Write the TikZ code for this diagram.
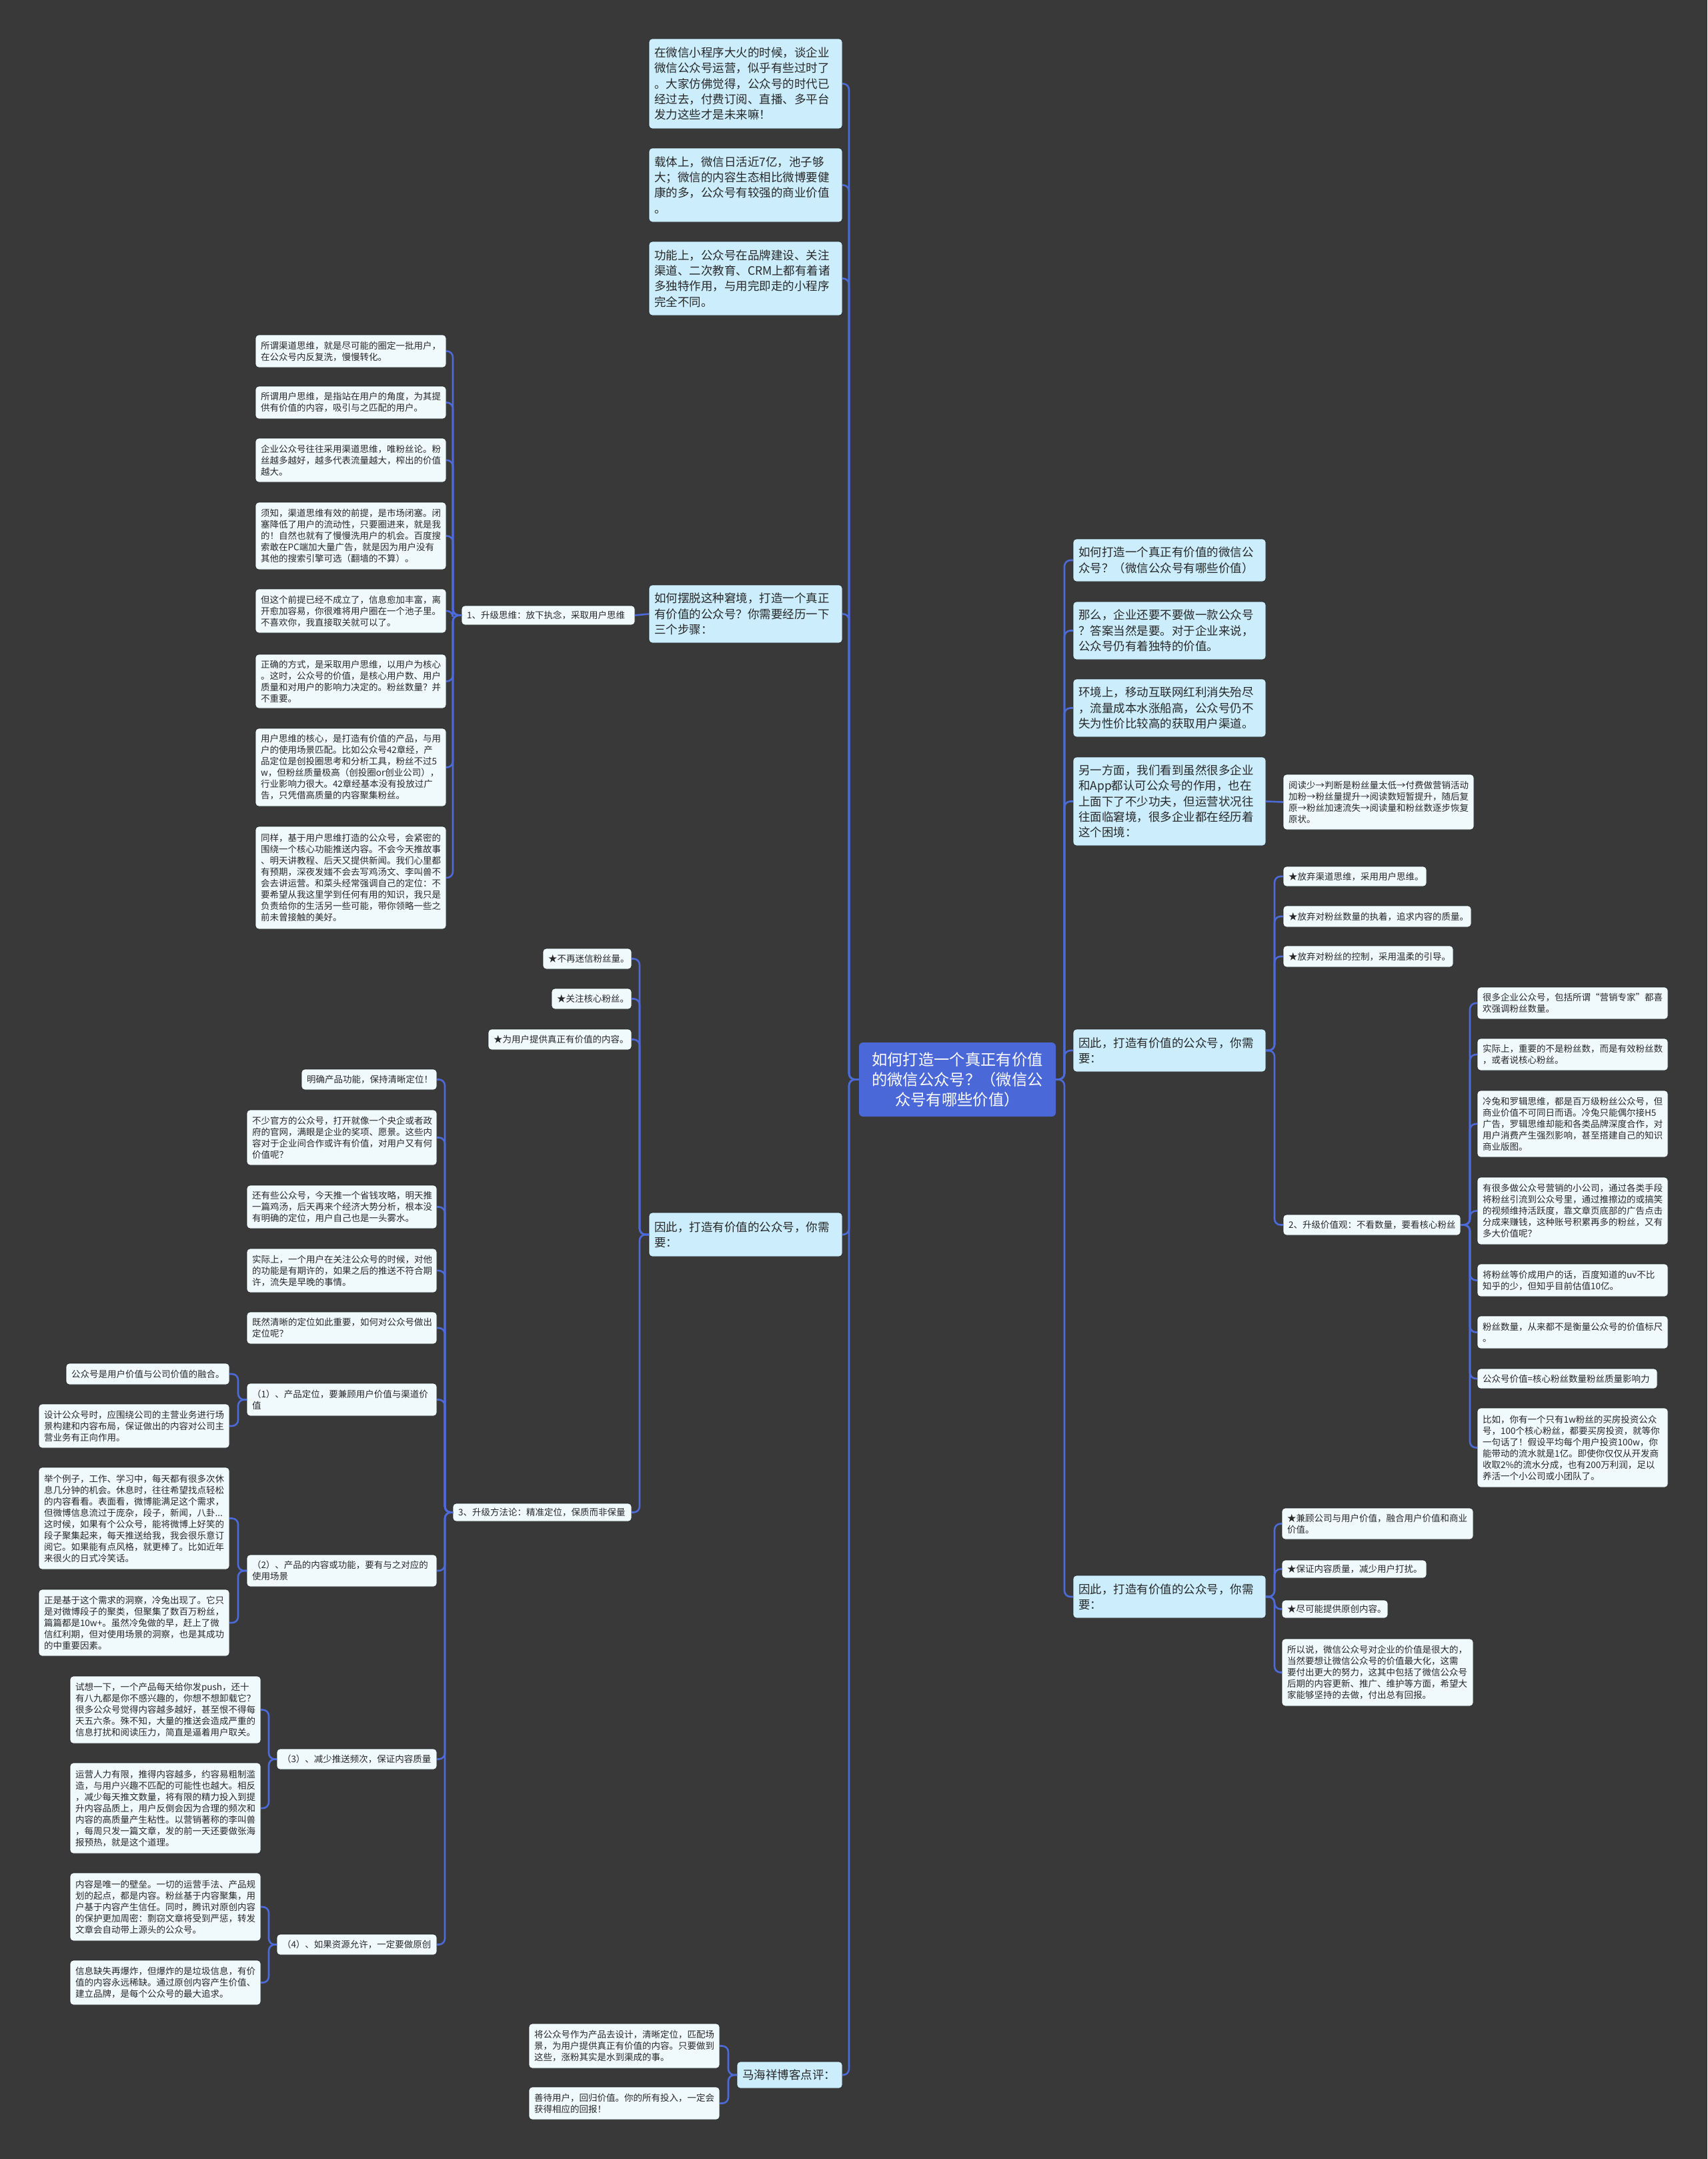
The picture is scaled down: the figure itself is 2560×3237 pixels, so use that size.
\documentclass[tikz,border=0pt]{standalone}
\usepackage{fontspec}
\setmainfont{Noto Sans CJK SC}
\definecolor{bg}{RGB}{58,57,58}
\definecolor{lblue}{RGB}{203,237,252}
\definecolor{wbox}{RGB}{240,250,253}
\definecolor{txt}{RGB}{40,40,40}
\definecolor{bord}{RGB}{30,30,30}
\definecolor{cblue}{RGB}{76,106,216}
\definecolor{rootblue}{RGB}{74,104,216}
\tikzset{
 lvA/.style={fill=lblue, draw=bord, line width=0.6pt, rounded corners=5pt, text=txt, font=\fontsize{17.5}{23.3}\selectfont, align=left, inner ysep=4pt, outer sep=0pt},
 lvB/.style={fill=wbox, draw=bord, line width=0.6pt, rounded corners=5pt, text=txt, font=\fontsize{13.5}{17}\selectfont, align=left, inner ysep=3pt, outer sep=0pt},
 rootbox/.style={fill=rootblue, rounded corners=6pt, text=white, font=\fontsize{23.3}{30}\selectfont, align=center, outer sep=0pt},
 conn/.style={draw=cblue, line width=2.6pt, rounded corners=9pt},
 connS/.style={draw=cblue, line width=2.6pt},
}
\newcommand\mkbox[7]{%
 \pgfmathsetmacro\bxw{#5-#3-16}%
 \pgfmathsetmacro\bxh{#6-#4}%
 \node[#2, inner xsep=8pt, text width=\bxw pt, minimum height=\bxh pt, anchor=north west] (#1) at (#3,#4) {#7};}
\newcommand\Lc[3]{\draw[conn] (#1.west) -- (#3 |- #1.west) -- (#3 |- #2.east) -- (#2.east);}
\newcommand\Rc[3]{\draw[conn] (#1.east) -- (#3 |- #1.east) -- (#3 |- #2.west) -- (#2.west);}
\begin{document}
\begin{tikzpicture}[x=1pt,y=-1pt]
\fill[bg] (0,0) rectangle (2560,3237);
\useasboundingbox (0,0) rectangle (2560,3237);

% trunk coordinates
\coordinate (kL) at (1273,0);
\coordinate (kR) at (1596,0);
\coordinate (kM1) at (679,0);
\coordinate (kL5) at (959,0);
\coordinate (kB4) at (667,0);
\coordinate (kP1) at (357,0);
\coordinate (kP3) at (403,0);
\coordinate (kMa) at (1092,0);
\coordinate (kR5) at (1911,0);
\coordinate (kS4) at (2204,0);

% root
\node[rootbox, text width=275pt, inner xsep=10pt, minimum height=111pt, anchor=north west] (root) at (1288,1563) {如何打造一个真正有价值\\的微信公众号？（微信公\\众号有哪些价值）};

% left level 1
\mkbox{L1}{lvA}{973}{58}{1263}{193}{在微信小程序大火的时候，谈企业\\微信公众号运营，似乎有些过时了\\。大家仿佛觉得，公众号的时代已\\经过去，付费订阅、直播、多平台\\发力这些才是未来嘛！}
\mkbox{L2}{lvA}{973}{222}{1263}{333}{载体上，微信日活近7亿，池子够\\大；微信的内容生态相比微博要健\\康的多，公众号有较强的商业价值\\。}
\mkbox{L3}{lvA}{973}{362}{1263}{473}{功能上，公众号在品牌建设、关注\\渠道、二次教育、CRM上都有着诸\\多独特作用，与用完即走的小程序\\完全不同。}
\mkbox{L4}{lvA}{973}{877}{1263}{964}{如何摆脱这种窘境，打造一个真正\\有价值的公众号？你需要经历一下\\三个步骤：}
\mkbox{L5}{lvA}{973}{1818}{1263}{1884}{因此，打造有价值的公众号，你需\\要：}
\mkbox{L6}{lvA}{1105}{3091}{1263}{3131}{马海祥博客点评：}

% branch 1
\mkbox{M1}{lvB}{692}{908}{952}{937}{1、升级思维：放下执念，采取用户思维}
\mkbox{a1}{lvB}{383}{502}{669}{551}{所谓渠道思维，就是尽可能的圈定一批用户，\\在公众号内反复洗，慢慢转化。}
\mkbox{a2}{lvB}{383}{579}{669}{628}{所谓用户思维，是指站在用户的角度，为其提\\供有价值的内容，吸引与之匹配的用户。}
\mkbox{a3}{lvB}{383}{657}{669}{723}{企业公众号往往采用渠道思维，唯粉丝论。粉\\丝越多越好，越多代表流量越大，榨出的价值\\越大。}
\mkbox{a4}{lvB}{383}{753}{669}{854}{须知，渠道思维有效的前提，是市场闭塞。闭\\塞降低了用户的流动性，只要圈进来，就是我\\的！自然也就有了慢慢洗用户的机会。百度搜\\索敢在PC端加大量广告，就是因为用户没有\\其他的搜索引擎可选（翻墙的不算）。}
\mkbox{a5}{lvB}{383}{883}{669}{949}{但这个前提已经不成立了，信息愈加丰富，离\\开愈加容易，你很难将用户圈在一个池子里。\\不喜欢你，我直接取关就可以了。}
\mkbox{a6}{lvB}{383}{981}{669}{1062}{正确的方式，是采取用户思维，以用户为核心\\。这时，公众号的价值，是核心用户数、用户\\质量和对用户的影响力决定的。粉丝数量？并\\不重要。}
\mkbox{a7}{lvB}{383}{1092}{669}{1209}{用户思维的核心，是打造有价值的产品，与用\\户的使用场景匹配。比如公众号42章经，产\\品定位是创投圈思考和分析工具，粉丝不过5\\w，但粉丝质量极高（创投圈or创业公司），\\行业影响力很大。42章经基本没有投放过广\\告，只凭借高质量的内容聚集粉丝。}
\mkbox{a8}{lvB}{383}{1239}{669}{1393}{同样，基于用户思维打造的公众号，会紧密的\\围绕一个核心功能推送内容。不会今天推故事\\、明天讲教程、后天又提供新闻。我们心里都\\有预期，深夜发媸不会去写鸡汤文、李叫兽不\\会去讲运营。和菜头经常强调自己的定位：不\\要希望从我这里学到任何有用的知识，我只是\\负责给你的生活另一些可能，带你领略一些之\\前未曾接触的美好。}

% branch L5
\mkbox{b1}{lvB}{814}{1422}{947}{1453}{★不再迷信粉丝量。}
\mkbox{b2}{lvB}{827}{1482}{947}{1513}{★关注核心粉丝。}
\mkbox{b3}{lvB}{732}{1543}{947}{1574}{★为用户提供真正有价值的内容。}
\mkbox{b4}{lvB}{679}{2254}{947}{2281}{3、升级方法论：精准定位，保质而非保量}

\mkbox{d1}{lvB}{452}{1603}{655}{1634}{明确产品功能，保持清晰定位！}
\mkbox{d2}{lvB}{370}{1664}{655}{1747}{不少官方的公众号，打开就像一个央企或者政\\府的官网，满眼是企业的奖项、愿景。这些内\\容对于企业间合作或许有价值，对用户又有何\\价值呢？}
\mkbox{d3}{lvB}{370}{1777}{655}{1842}{还有些公众号，今天推一个省钱攻略，明天推\\一篇鸡汤，后天再来个经济大势分析，根本没\\有明确的定位，用户自己也是一头雾水。}
\mkbox{d4}{lvB}{370}{1872}{655}{1938}{实际上，一个用户在关注公众号的时候，对他\\的功能是有期许的，如果之后的推送不符合期\\许，流失是早晚的事情。}
\mkbox{d5}{lvB}{370}{1967}{655}{2015}{既然清晰的定位如此重要，如何对公众号做出\\定位呢？}
\mkbox{p1}{lvB}{370}{2074}{655}{2123}{（1）、产品定位，要兼顾用户价值与渠道价\\值}
\mkbox{p2}{lvB}{370}{2331}{655}{2379}{（2）、产品的内容或功能，要有与之对应的\\使用场景}
\mkbox{p3}{lvB}{415}{2622}{655}{2653}{（3）、减少推送频次，保证内容质量}
\mkbox{p4}{lvB}{415}{2900}{655}{2931}{（4）、如果资源允许，一定要做原创}

\mkbox{e1}{lvB}{99}{2044}{344}{2076}{公众号是用户价值与公司价值的融合。}
\mkbox{e2}{lvB}{58}{2105}{344}{2171}{设计公众号时，应围绕公司的主营业务进行场\\景构建和内容布局，保证做出的内容对公司主\\营业务有正向作用。}
\mkbox{f1}{lvB}{58}{2200}{344}{2353}{举个例子，工作、学习中，每天都有很多次休\\息几分钟的机会。休息时，往往希望找点轻松\\的内容看看。表面看，微博能满足这个需求，\\但微博信息流过于庞杂，段子，新闻，八卦...\\这时候，如果有个公众号，能将微博上好笑的\\段子聚集起来，每天推送给我，我会很乐意订\\阅它。如果能有点风格，就更棒了。比如近年\\来很火的日式冷笑话。}
\mkbox{f2}{lvB}{58}{2383}{344}{2483}{正是基于这个需求的洞察，冷兔出现了。它只\\是对微博段子的聚类，但聚集了数百万粉丝，\\篇篇都是10w+。虽然冷兔做的早，赶上了微\\信红利期，但对使用场景的洞察，也是其成功\\的中重要因素。}
\mkbox{g1}{lvB}{105}{2513}{391}{2614}{试想一下，一个产品每天给你发push，还十\\有八九都是你不感兴趣的，你想不想卸载它？\\很多公众号觉得内容越多越好，甚至恨不得每\\天五六条。殊不知，大量的推送会造成严重的\\信息打扰和阅读压力，简直是逼着用户取关。}
\mkbox{g2}{lvB}{105}{2643}{391}{2779}{运营人力有限，推得内容越多，约容易粗制滥\\造，与用户兴趣不匹配的可能性也越大。相反\\，减少每天推文数量，将有限的精力投入到提\\升内容品质上，用户反倒会因为合理的频次和\\内容的高质量产生粘性。以营销著称的李叫兽\\，每周只发一篇文章，发的前一天还要做张海\\报预热，就是这个道理。}
\mkbox{h1}{lvB}{105}{2808}{391}{2910}{内容是唯一的壁垒。一切的运营手法、产品规\\划的起点，都是内容。粉丝基于内容聚集，用\\户基于内容产生信任。同时，腾讯对原创内容\\的保护更加周密：剽窃文章将受到严惩，转发\\文章会自动带上源头的公众号。}
\mkbox{h2}{lvB}{105}{2939}{391}{3006}{信息缺失再爆炸，但爆炸的是垃圾信息，有价\\值的内容永远稀缺。通过原创内容产生价值、\\建立品牌，是每个公众号的最大追求。}

\mkbox{m1}{lvB}{793}{3034}{1079}{3101}{将公众号作为产品去设计，清晰定位，匹配场\\景，为用户提供真正有价值的内容。只要做到\\这些，涨粉其实是水到渠成的事。}
\mkbox{m2}{lvB}{793}{3129}{1079}{3178}{善待用户，回归价值。你的所有投入，一定会\\获得相应的回报！}

% right level 1
\mkbox{R1}{lvA}{1609}{808}{1898}{872}{如何打造一个真正有价值的微信公\\众号？（微信公众号有哪些价值）}
\mkbox{R2}{lvA}{1609}{902}{1898}{989}{那么，企业还要不要做一款公众号\\？答案当然是要。对于企业来说，\\公众号仍有着独特的价值。}
\mkbox{R3}{lvA}{1609}{1018}{1898}{1105}{环境上，移动互联网红利消失殆尽\\，流量成本水涨船高，公众号仍不\\失为性价比较高的获取用户渠道。}
\mkbox{R4}{lvA}{1609}{1135}{1898}{1268}{另一方面，我们看到虽然很多企业\\和App都认可公众号的作用，也在\\上面下了不少功夫，但运营状况往\\往面临窘境，很多企业都在经历着\\这个困境：}
\mkbox{R5}{lvA}{1609}{1543}{1898}{1607}{因此，打造有价值的公众号，你需\\要：}
\mkbox{R6}{lvA}{1609}{2362}{1898}{2426}{因此，打造有价值的公众号，你需\\要：}

\mkbox{fan}{lvB}{1924}{1161}{2210}{1244}{阅读少→判断是粉丝量太低→付费做营销活动\\加粉→粉丝量提升→阅读数短暂提升，随后复\\原→粉丝加速流失→阅读量和粉丝数逐步恢复\\原状。}

\mkbox{s1}{lvB}{1924}{1299}{2139}{1329}{★放弃渠道思维，采用用户思维。}
\mkbox{s2}{lvB}{1924}{1358}{2206}{1390}{★放弃对粉丝数量的执着，追求内容的质量。}
\mkbox{s3}{lvB}{1924}{1418}{2179}{1450}{★放弃对粉丝的控制，采用温柔的引导。}
\mkbox{s4}{lvB}{1924}{1821}{2190}{1852}{2、升级价值观：不看数量，要看核心粉丝}

\mkbox{c1}{lvB}{2215}{1480}{2501}{1528}{很多企业公众号，包括所谓“营销专家”都喜\\欢强调粉丝数量。}
\mkbox{c2}{lvB}{2215}{1557}{2501}{1605}{实际上，重要的不是粉丝数，而是有效粉丝数\\，或者说核心粉丝。}
\mkbox{c3}{lvB}{2215}{1635}{2501}{1735}{冷兔和罗辑思维，都是百万级粉丝公众号，但\\商业价值不可同日而语。冷兔只能偶尔接H5\\广告，罗辑思维却能和各类品牌深度合作，对\\用户消费产生强烈影响，甚至搭建自己的知识\\商业版图。}
\mkbox{c4}{lvB}{2215}{1765}{2501}{1866}{有很多做公众号营销的小公司，通过各类手段\\将粉丝引流到公众号里，通过推擦边的或搞笑\\的视频维持活跃度，靠文章页底部的广告点击\\分成来赚钱，这种账号积累再多的粉丝，又有\\多大价值呢？}
\mkbox{c5}{lvB}{2215}{1895}{2501}{1944}{将粉丝等价成用户的话，百度知道的uv不比\\知乎的少，但知乎目前估值10亿。}
\mkbox{c6}{lvB}{2215}{1973}{2501}{2022}{粉丝数量，从来都不是衡量公众号的价值标尺\\。}
\mkbox{c7}{lvB}{2215}{2052}{2485}{2082}{公众号价值=核心粉丝数量粉丝质量影响力}
\mkbox{c8}{lvB}{2215}{2111}{2501}{2230}{比如，你有一个只有1w粉丝的买房投资公众\\号，100个核心粉丝，都要买房投资，就等你\\一句话了！假设平均每个用户投资100w，你\\能带动的流水就是1亿。即使你仅仅从开发商\\收取2\%的流水分成，也有200万利润，足以\\养活一个小公司或小团队了。}

\mkbox{t1}{lvB}{1922}{2261}{2209}{2308}{★兼顾公司与用户价值，融合用户价值和商业\\价值。}
\mkbox{t2}{lvB}{1922}{2339}{2139}{2366}{★保证内容质量，减少用户打扰。}
\mkbox{t3}{lvB}{1922}{2399}{2081}{2426}{★尽可能提供原创内容。}
\mkbox{t4}{lvB}{1922}{2457}{2209}{2558}{所以说，微信公众号对企业的价值是很大的，\\当然要想让微信公众号的价值最大化，这需\\要付出更大的努力，这其中包括了微信公众号\\后期的内容更新、推广、维护等方面，希望大\\家能够坚持的去做，付出总有回报。}

% connectors: root left
\foreach \c in {L1,L2,L3,L4,L5,L6} {\Lc{root}{\c}{kL}}
\foreach \c in {R1,R2,R3,R4,R5,R6} {\Rc{root}{\c}{kR}}
\draw[connS] (L4.west) -- (M1.east);
\foreach \c in {a1,a2,a3,a4,a5,a6,a7,a8} {\Lc{M1}{\c}{kM1}}
\foreach \c in {b1,b2,b3,b4} {\Lc{L5}{\c}{kL5}}
\foreach \c in {d1,d2,d3,d4,d5,p1,p2,p3,p4} {\Lc{b4}{\c}{kB4}}
\foreach \c in {e1,e2} {\Lc{p1}{\c}{kP1}}
\foreach \c in {f1,f2} {\Lc{p2}{\c}{kP1}}
\foreach \c in {g1,g2} {\Lc{p3}{\c}{kP3}}
\foreach \c in {h1,h2} {\Lc{p4}{\c}{kP3}}
\foreach \c in {m1,m2} {\Lc{L6}{\c}{kMa}}
\draw[connS] (R4.east) -- (fan.west);
\foreach \c in {s1,s2,s3,s4} {\Rc{R5}{\c}{kR5}}
\foreach \c in {c1,c2,c3,c4,c5,c6,c7,c8} {\Rc{s4}{\c}{kS4}}
\foreach \c in {t1,t2,t3,t4} {\Rc{R6}{\c}{kR5}}
\end{tikzpicture}
\end{document}
